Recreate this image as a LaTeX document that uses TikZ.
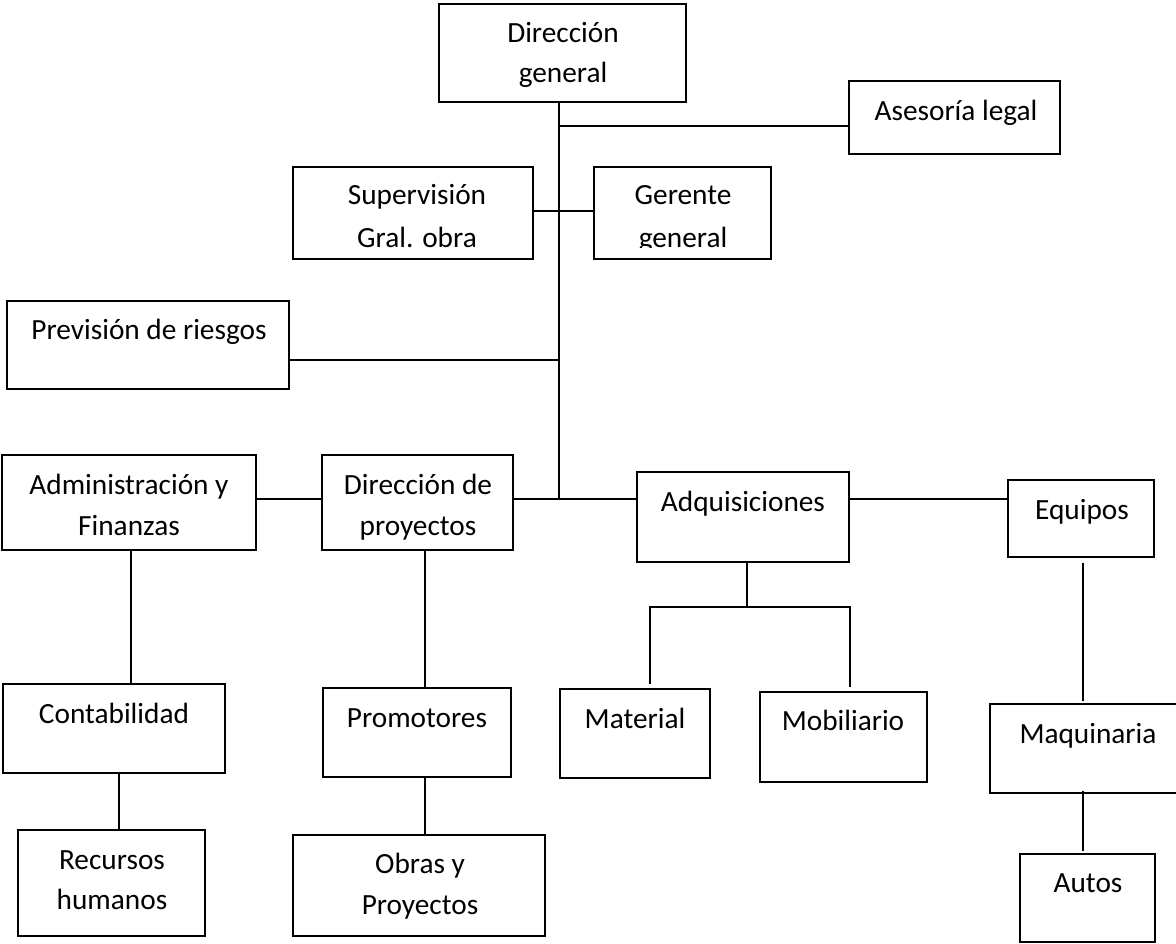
\documentclass[tikz,border=0pt]{standalone}
\usepackage{fontspec}
\setmainfont{Carlito}
\usetikzlibrary{fit}
\tikzset{
  orgbox/.style={draw=black, line width=1.8pt, inner sep=0pt, fill=none},
  lbl/.style={anchor=base, inner sep=0pt, font=\fontsize{29.3}{35}\selectfont},
  conn/.style={draw=black, line width=1.7pt}
}
\begin{document}
\begin{tikzpicture}[x=1pt,y=-1pt]
\clip (0,0) rectangle (1176,943);
\fill[white] (0,0) rectangle (1176,943);
% boxes
\node[orgbox, fit={(439,4) (686,102)}] (dg) {};
\node[orgbox, fit={(849,81) (1060,154)}] (asl) {};
\node[orgbox, fit={(293,167) (533,259)}] (sup) {};
\node[orgbox, fit={(594,167) (771,259)}] (ger) {};
\node[orgbox, fit={(7,301) (289,389)}] (prev) {};
\node[orgbox, fit={(2,455) (256,550)}] (adm) {};
\node[orgbox, fit={(322,455) (513,550)}] (dp) {};
\node[orgbox, fit={(637,472) (849,562)}] (adq) {};
\node[orgbox, fit={(1008,480) (1154,557)}] (eq) {};
\node[orgbox, fit={(3,684) (225,773)}] (cont) {};
\node[orgbox, fit={(18,830) (205,936)}] (rh) {};
\node[orgbox, fit={(323,688) (511,777)}] (prom) {};
\node[orgbox, fit={(293,835) (545,936)}] (obr) {};
\node[orgbox, fit={(560,689) (710,778)}] (mat) {};
\node[orgbox, fit={(760,692) (927,782)}] (mob) {};
\node[orgbox, fit={(990,704) (1190,793)}] (maq) {};
\node[orgbox, fit={(1020,854) (1155,942)}] (aut) {};
% texts
\node[lbl] (dg1) at (563,42) {Dirección};
\node[lbl] (dg2) at (563,82) {general};
\node[lbl] (asl1) at (956,120) {Asesoría legal};
\node[lbl] (sup1) at (417,204) {Supervisión};
\node[lbl] (sup2) at (417,247) {Gral. obra};
\node[lbl] (ger1) at (683,204) {Gerente};
\begin{scope}
\clip (594,160) rectangle (771,247);
\node[lbl] (ger2) at (683,247) {general};
\end{scope}
\node[lbl] (prev1) at (149,339) {Previsión de riesgos};
\node[lbl] (adm1) at (129,494) {Administración y};
\node[lbl] (adm2) at (129,535) {Finanzas};
\node[lbl] (dp1) at (418,494) {Dirección de};
\node[lbl] (dp2) at (418,535) {proyectos};
\node[lbl] (adq1) at (743,511) {Adquisiciones};
\node[lbl] (eq1) at (1082,519) {Equipos};
\node[lbl] (cont1) at (114,723) {Contabilidad};
\node[lbl] (rh1) at (112,869) {Recursos};
\node[lbl] (rh2) at (112,909) {humanos};
\node[lbl] (prom1) at (417,727) {Promotores};
\node[lbl] (obr1) at (420,873) {Obras y};
\node[lbl] (obr2) at (420,914) {Proyectos};
\node[lbl] (mat1) at (635,728) {Material};
\node[lbl] (mob1) at (843,730) {Mobiliario};
\node[lbl] (maq1) at (1088,743) {Maquinaria};
\node[lbl] (aut1) at (1088,892) {Autos};
% junction coordinates
\coordinate (tend) at (559,499);
\coordinate (j1) at (559,126);
\coordinate (j2) at (559,211);
\coordinate (j3) at (559,360);
\coordinate (adqj) at (747,607);
\coordinate (matj) at (650,607);
\coordinate (mobj) at (850,607);
\coordinate (matend) at (650,684);
\coordinate (mobend) at (850,687);
\coordinate (eqa) at (1083,563);
\coordinate (eqb) at (1083,701);
\coordinate (maqa) at (1083,791);
\coordinate (maqb) at (1083,851);
% connectors
\draw[conn] (dg.south -| tend) -- (tend);
\draw[conn] (j1) -- (asl.west |- j1);
\draw[conn] (sup.east |- j2) -- (ger.west |- j2);
\draw[conn] (prev.east |- j3) -- (j3);
\draw[conn] (adm.east |- tend) -- (dp.west |- tend);
\draw[conn] (dp.east |- tend) -- (adq.west |- tend);
\draw[conn] (adq.east |- tend) -- (eq.west |- tend);
\draw[conn] (adm.south -| 131,0) -- (cont.north -| 131,0);
\draw[conn] (cont.south -| 119,0) -- (rh.north -| 119,0);
\draw[conn] (dp.south -| 425,0) -- (prom.north -| 425,0);
\draw[conn] (prom.south -| 425,0) -- (obr.north -| 425,0);
\draw[conn] (adq.south -| adqj) -- (adqj);
\draw[conn] (matend) -- (matj) -- (mobj) -- (mobend);
\draw[conn] (eqa) -- (eqb);
\draw[conn] (maqa) -- (maqb);
\end{tikzpicture}
\end{document}
